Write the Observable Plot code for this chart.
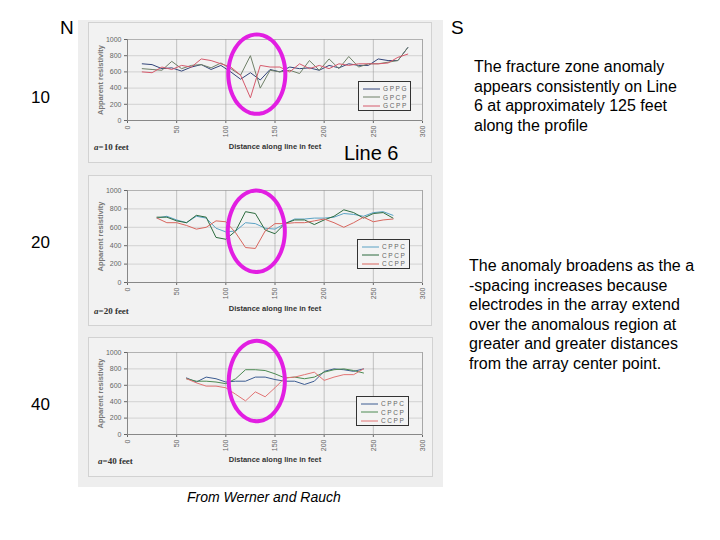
<!DOCTYPE html>
<html><head><meta charset="utf-8">
<script src="https://cdn.jsdelivr.net/npm/d3@7"></script>
<script src="https://cdn.jsdelivr.net/npm/@observablehq/plot@0.6"></script>
<style>
body{margin:0;background:#fff;font-family:Arial,"Liberation Sans",sans-serif;}
#page{position:relative;width:720px;height:540px;overflow:hidden;background:#fff;}
.abs{position:absolute;white-space:nowrap;}
.scan{left:78px;top:20px;width:365px;height:467px;background:#eeeeee;}
.box{background:#f2f2f2;border:1px solid #d2d2d2;box-sizing:border-box;}
.big{font-size:17px;color:#000;line-height:1;}
.note{font-size:16px;line-height:19.5px;color:#000;}
.aft{font-family:"Liberation Serif","Times New Roman",serif;font-weight:bold;font-size:9px;color:#333;}
.legend{border:1px solid #333;background:#f3f3f3;box-sizing:border-box;font-size:6.5px;color:#666;letter-spacing:1.6px;}
.legend .row{position:absolute;left:4px;display:flex;align-items:center;}
.legend .row span{margin-left:3px;}
svg [aria-label="x-axis label"] text{font-weight:bold;fill:#333;font-size:7.5px;}
svg [aria-label="y-axis label"] text{font-weight:bold;fill:#777;font-size:7.5px;}
</style>
</head><body>
<div id="page">
  <div class="abs scan"></div>
  <div class="abs box" style="left:88px;top:22px;width:344px;height:141px;"></div>
  <div class="abs box" style="left:88px;top:175px;width:344px;height:151px;"></div>
  <div class="abs box" style="left:88px;top:337px;width:345px;height:140px;"></div>
  <div id="c10" class="abs" style="left:88px;top:22px;"></div>
  <div id="c20" class="abs" style="left:88px;top:175px;"></div>
  <div id="c40" class="abs" style="left:88px;top:337px;"></div>
</div>
<script>
// ---------- data ----------
const xTicks = [0, 50, 100, 150, 200, 250, 300];
const yTicks = [0, 200, 400, 600, 800, 1000];

// a = 10 feet
const x10 = [15,25,35,45,55,65,75,85,95,105,115,125,135,145,155,165,175,185,195,205,215,225,235,245,255,265,275,285];
const gppg10 = [700,690,640,650,610,660,690,630,680,600,510,590,500,630,600,660,640,650,620,680,650,700,680,680,760,740,740,900];
const gpcp10 = [640,630,620,730,640,680,690,650,710,640,560,800,400,620,600,620,580,740,620,760,640,790,660,700,700,720,740,900];
const gcpp10 = [600,590,660,630,680,660,760,740,700,660,560,280,680,660,660,600,700,640,680,640,700,680,700,700,700,710,780,820];
const names10 = ["GPPG", "GPCP", "GCPP"];

// a = 20 feet
const x20 = [30,40,50,60,70,80,90,100,110,120,130,140,150,160,170,180,190,200,210,220,230,240,250,260,270];
const cppc20 = [700,720,680,650,720,700,590,550,560,650,640,590,580,640,690,690,700,700,710,750,740,720,760,770,730];
const cpcp20 = [710,710,670,650,730,710,490,470,560,770,750,570,530,640,680,680,630,680,720,790,760,700,750,760,700];
const ccpp20 = [700,650,650,620,580,600,670,660,540,380,370,560,640,640,650,650,670,690,650,600,650,710,660,680,690];
const names20 = ["CPPC", "CPCP", "CCPP"];

// a = 40 feet
const x40 = [60,70,80,90,100,110,120,130,140,150,160,170,180,190,200,210,220,230,240];
const cppc40 = [690,640,700,680,640,650,650,700,700,670,650,650,610,650,770,800,790,770,800];
const cpcp40 = [680,650,650,640,620,680,790,790,780,740,690,700,680,700,760,790,800,780,750];
const ccpp40 = [680,630,590,590,570,490,410,520,460,570,690,700,730,760,660,700,730,730,800];
const names40 = ["CPPC", "CPCP", "CCPP"];

// anomaly highlight (centre / radii in data units)
const ringCx = [131.5, 131, 131.5];
const ringCy = [572, 557, 652];
const ringRx = [29, 29, 28.5];
const ringRy = [490, 443, 490];

// ---------- drawing ----------
function ring(i) {
  const pts = [];
  for (let k = 0; k < 72; k++) {
    const t = (k / 72) * 2 * Math.PI;
    pts.push({x: ringCx[i] + ringRx[i] * Math.cos(t), y: ringCy[i] + ringRy[i] * Math.sin(t)});
  }
  return pts;
}

function chart(el, cfg) {
  const rows = [];
  cfg.series.forEach((vals, s) => vals.forEach((v, j) => rows.push({d: cfg.x[j], v, s: cfg.names[s]})));
  const svg = Plot.plot({
    width: cfg.w, height: cfg.h,
    marginLeft: 39, marginRight: cfg.w - 39 - 295,
    marginTop: cfg.mt, marginBottom: cfg.mb,
    style: {background: "transparent", fontFamily: "Arial, 'Liberation Sans', sans-serif", fontSize: "7px", color: "#666", overflow: "visible"},
    x: {domain: [0, 300], ticks: xTicks, tickFormat: d => String(d), tickRotate: -90, tickSize: 3, tickPadding: 2,
        label: "Distance along line in feet", labelAnchor: "center", labelArrow: "none", labelOffset: cfg.xlo},
    y: {domain: [0, 1000], ticks: yTicks, tickFormat: d => String(d), tickSize: 3, tickPadding: 3,
        label: "Apparent resistivity", labelAnchor: "center", labelArrow: "none", labelOffset: 30},
    color: {domain: cfg.names, range: cfg.colors},
    marks: [
      Plot.frame({stroke: "#b8b8b8"}),
      Plot.gridY(yTicks, {stroke: "#aaa", strokeOpacity: 0.45}),
      Plot.gridX(xTicks, {stroke: "#999", strokeOpacity: 0.55}),
      Plot.ruleY([0], {stroke: "#888"}),
      Plot.ruleX([0], {stroke: "#888"}),
      Plot.line(rows, {x: "d", y: "v", z: "s", stroke: "s", strokeWidth: 1}),
      Plot.line(ring(cfg.ring), {x: "x", y: "y", stroke: "#e21ee2", strokeWidth: 4, curve: "catmull-rom-closed", clip: false})
    ]
  });
  document.getElementById(el).appendChild(svg);
}

chart("c10", {w: 344, h: 141, mt: 17, mb: 43, xlo: 28, x: x10, series: [gppg10, gpcp10, gcpp10], names: names10,
  colors: ["#33457a", "#6f8068", "#d65a6c"], ring: 0});
chart("c20", {w: 344, h: 151, mt: 15, mb: 44, xlo: 28, x: x20, series: [cppc20, cpcp20, ccpp20], names: names20,
  colors: ["#5aa2c4", "#2c6b3e", "#d8665e"], ring: 1});
chart("c40", {w: 345, h: 140, mt: 15, mb: 43, xlo: 27, x: x40, series: [cppc40, cpcp40, ccpp40], names: names40,
  colors: ["#3c5c92", "#4c8a52", "#e27474"], ring: 2});

// ---------- legends and texts ----------
const page = document.getElementById("page");
function add(html, cls, style) {
  const d = document.createElement("div");
  d.className = "abs " + cls;
  d.setAttribute("style", style);
  d.innerHTML = html;
  page.appendChild(d);
  return d;
}
function legend(names, colors, left, top) {
  const box = add("", "legend", `left:${left}px;top:${top}px;width:53px;height:30px;`);
  names.forEach((n, i) => {
    const r = document.createElement("div");
    r.className = "row";
    r.style.top = (3 + i * 8.5) + "px";
    r.innerHTML = `<svg width="17" height="4"><line x1="0" y1="2" x2="17" y2="2" stroke="${colors[i]}" stroke-width="1"/></svg><span>${n}</span>`;
    box.appendChild(r);
  });
}
legend(names10, ["#33457a", "#6f8068", "#d65a6c"], 358, 81);
legend(names20, ["#5aa2c4", "#2c6b3e", "#d8665e"], 357, 239);
legend(names40, ["#3c5c92", "#4c8a52", "#e27474"], 356, 396);

add("<i>a</i>=10 feet", "aft", "left:94px;top:142px;");
add("<i>a</i>=20 feet", "aft", "left:94px;top:306px;");
add("<i>a</i>=40 feet", "aft", "left:98px;top:456px;");

add("N", "big", "left:60px;top:18px;font-size:19px;");
add("S", "big", "left:451px;top:18px;font-size:19px;");
add("10", "big", "left:31px;top:89px;");
add("20", "big", "left:31px;top:234px;");
add("40", "big", "left:31px;top:396px;");
add("Line 6", "big", "left:344px;top:143px;font-size:20px;");

add("The fracture zone anomaly<br>appears consistently on Line<br>6 at approximately 125 feet<br>along the profile",
    "note", "left:474px;top:57px;");
add("The anomaly broadens as the a<br>-spacing increases because<br>electrodes in the array extend<br>over the anomalous region at<br>greater and greater distances<br>from the array center point.",
    "note", "left:469px;top:256px;");
add("From Werner and Rauch", "", "left:187px;top:489px;font-size:14px;font-style:italic;color:#000;");
</script>
</body></html>
